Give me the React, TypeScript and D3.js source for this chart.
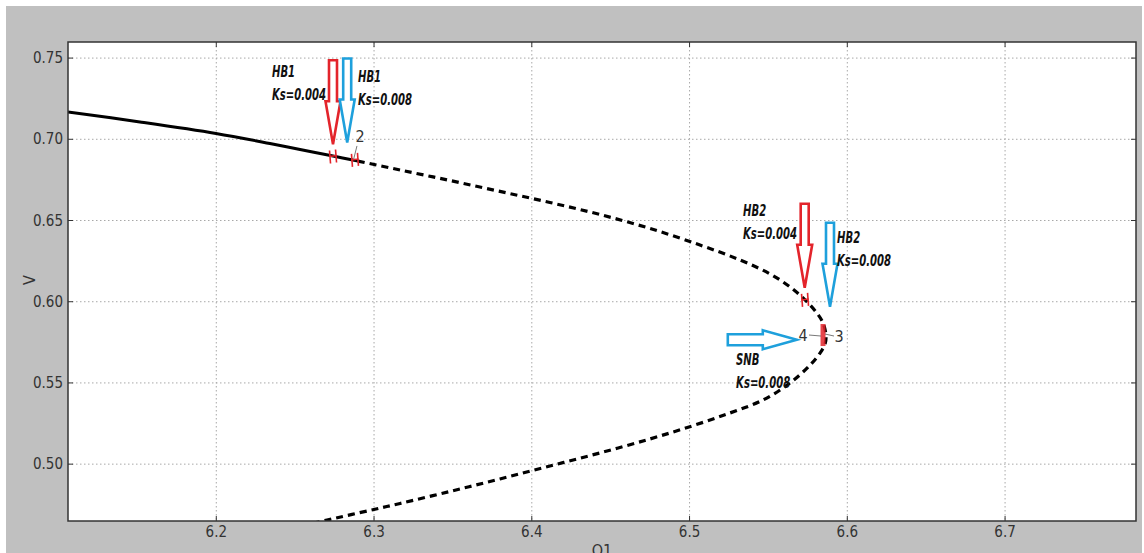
import React from "react";
import * as d3 from "d3";

// ---- data ----
const xTicks = [6.2, 6.3, 6.4, 6.5, 6.6, 6.7];
const yTicks = [0.5, 0.55, 0.6, 0.65, 0.7, 0.75];
const xDomain = [6.106, 6.783];
const yDomain = [0.465, 0.7599];

// stable branch (solid)
const stableQ = [6.106, 6.1516, 6.1998, 6.234, 6.2531, 6.274, 6.2898];
const stableV = [0.7168, 0.7107, 0.7036, 0.6974, 0.6937, 0.6897, 0.6866];
// unstable branch (dashed): upper part, fold, lower part
const unstableQ = [
  6.2898, 6.3165, 6.3482, 6.3798, 6.4115, 6.4432, 6.4749, 6.5066, 6.532, 6.551, 6.5637, 6.5732, 6.5802, 6.5846, 6.5865,
  6.5859, 6.5827, 6.5764, 6.5637, 6.5466, 6.5256, 6.5016, 6.4749, 6.4432, 6.4115, 6.3798, 6.3482, 6.3165, 6.2999, 6.2702, 6.2594,
];
const unstableV = [
  0.6866, 0.6811, 0.6746, 0.6679, 0.6611, 0.6537, 0.6451, 0.6349, 0.6257, 0.6171, 0.6091, 0.6011, 0.5937, 0.5869, 0.5789,
  0.574, 0.5684, 0.561, 0.55, 0.5395, 0.5315, 0.5235, 0.5155, 0.5069, 0.4989, 0.4909, 0.4832, 0.4758, 0.4721, 0.4656, 0.4632,
];

// bifurcation points
const bifQ = [6.274, 6.2879, 6.5732, 6.5846];
const bifV = [0.6894, 0.6873, 0.6011, 0.5795];
const bifKind = ["hb", "hb", "hb", "snb"];

// annotation arrows (tip location in data units)
const arrowTipQ = [6.274, 6.283, 6.573, 6.589, 6.568];
const arrowTipV = [0.6969, 0.698, 0.6086, 0.5969, 0.5766];
const arrowColor = ["red", "blue", "red", "blue", "blue"];
const arrowDir = ["down", "down", "down", "down", "right"];

const annLabels = [
  ["HB1", "Ks=0.004"],
  ["HB1", "Ks=0.008"],
  ["HB2", "Ks=0.004"],
  ["HB2", "Ks=0.008"],
  ["SNB", "Ks=0.008"],
];
const annQ = [6.2353, 6.2898, 6.5339, 6.5935, 6.5295];
const annV = [0.7384, 0.7353, 0.6528, 0.6362, 0.561];

const W = 1144;
const H = 553;
const L = 68, R = 1136, T = 42, B = 521;

const RED = "#e3242b";
const BLUE = "#1ea0dc";

function arrowPath(tx: number, ty: number, len: number, dir: string, shaftHW: number, headHW: number, headLen: number) {
  const pts: [number, number][] = [
    [0, 0],
    [-headLen, -headHW],
    [-headLen, -shaftHW],
    [-len, -shaftHW],
    [-len, shaftHW],
    [-headLen, shaftHW],
    [-headLen, headHW],
  ];
  const ang = dir === "down" ? Math.PI / 2 : 0;
  const c = Math.cos(ang), s = Math.sin(ang);
  return "M" + pts.map(([x, y]) => `${(tx + x * c - y * s).toFixed(1)},${(ty + x * s + y * c).toFixed(1)}`).join("L") + "Z";
}

export default function App() {
  const x = d3.scaleLinear().domain(xDomain).range([L, R]);
  const y = d3.scaleLinear().domain(yDomain).range([B, T]);
  const line = d3
    .line<[number, number]>()
    .x((d) => x(d[0]))
    .y((d) => y(d[1]))
    .curve(d3.curveCatmullRom.alpha(0.5));
  const stable = line(stableQ.map((q, i) => [q, stableV[i]]));
  const unstable = line(unstableQ.map((q, i) => [q, unstableV[i]]));
  const tickFont = "'Liberation Sans Narrow', 'DejaVu Sans Condensed', Arial, sans-serif";
  const annFont = "'DejaVu Sans Condensed', 'DejaVu Sans', Arial, sans-serif";

  return (
    <svg width={W} height={H} style={{ position: "fixed", left: 0, top: 0 }}>
      <defs>
        <clipPath id="plotclip">
          <rect x={L} y={T} width={R - L} height={B - T} />
        </clipPath>
      </defs>
      <rect x={0} y={0} width={W} height={H} fill="#ffffff" />
      <rect x={6} y={6} width={1136} height={H - 6} fill="#c0c0c0" />
      <rect x={L} y={T} width={R - L} height={B - T} fill="#ffffff" />
      {/* grid */}
      {xTicks.map((t) => (
        <line key={"gx" + t} x1={x(t)} x2={x(t)} y1={T} y2={B} stroke="#a8a8a8" strokeWidth={1} strokeDasharray="1.5,2.5" />
      ))}
      {yTicks.map((t) => (
        <line key={"gy" + t} x1={L} x2={R} y1={y(t)} y2={y(t)} stroke="#a8a8a8" strokeWidth={1} strokeDasharray="1.5,2.5" />
      ))}
      {/* curves */}
      <g clipPath="url(#plotclip)">
        <path d={stable || ""} fill="none" stroke="#000" strokeWidth={3} />
        <path d={unstable || ""} fill="none" stroke="#000" strokeWidth={3.2} strokeDasharray="7,5" />
      </g>
      {/* ticks */}
      {xTicks.map((t) => (
        <g key={"tx" + t}>
          <line x1={x(t)} x2={x(t)} y1={B} y2={B - 5} stroke="#333" strokeWidth={1} />
          <line x1={x(t)} x2={x(t)} y1={T} y2={T + 5} stroke="#333" strokeWidth={1} />
          <text x={x(t)} y={537} textAnchor="middle" fontFamily={tickFont} fontSize={15} fill="#333">
            {t.toFixed(1)}
          </text>
        </g>
      ))}
      {yTicks.map((t) => (
        <g key={"ty" + t}>
          <line x1={L} x2={L + 5} y1={y(t)} y2={y(t)} stroke="#333" strokeWidth={1} />
          <line x1={R} x2={R - 5} y1={y(t)} y2={y(t)} stroke="#333" strokeWidth={1} />
          <text x={63} y={y(t) + 5} textAnchor="end" fontFamily={tickFont} fontSize={15} fill="#333">
            {t.toFixed(2)}
          </text>
        </g>
      ))}
      <rect x={L} y={T} width={R - L} height={B - T} fill="none" stroke="#333" strokeWidth={1.5} />
      {/* axis labels */}
      <text x={(L + R) / 2} y={556} textAnchor="middle" fontFamily={tickFont} fontSize={16} fill="#333">
        Q1
      </text>
      <text transform={`translate(35,280) rotate(-90)`} textAnchor="middle" fontFamily={tickFont} fontSize={16} fill="#333">
        V
      </text>
      {/* bifurcation markers */}
      {bifQ.map((q, i) => {
        const cx = x(q), cy = y(bifV[i]);
        if (bifKind[i] === "snb") {
          return (
            <g key={"b" + i}>
              <rect x={cx - 2.5} y={cy - 11} width={5} height={22} fill={RED} opacity={0.85} />
            </g>
          );
        }
        return (
          <g key={"b" + i} stroke={RED} strokeWidth={1.6} fill="none">
            <line x1={cx - 3.5} y1={cy - 6} x2={cx - 2.5} y2={cy + 7} />
            <line x1={cx + 2.5} y1={cy - 7} x2={cx + 3.5} y2={cy + 6} />
            <line x1={cx - 3.5} y1={cy} x2={cx + 3.5} y2={cy - 1} />
          </g>
        );
      })}
      {/* point labels */}
      <text x={x(bifQ[1]) + 5} y={y(bifV[1]) - 18} textAnchor="middle" fontFamily={tickFont} fontSize={16} fill="#333">
        2
      </text>
      <line x1={x(bifQ[1]) + 2} y1={y(bifV[1]) - 14} x2={x(bifQ[1]) - 1} y2={y(bifV[1]) - 2} stroke="#555" strokeWidth={0.8} />
      <text x={x(bifQ[3]) - 20} y={y(bifV[3]) + 6} textAnchor="middle" fontFamily={tickFont} fontSize={16} fill="#333">
        4
      </text>
      <line x1={x(bifQ[3]) - 14} y1={y(bifV[3])} x2={x(bifQ[3]) - 2} y2={y(bifV[3]) + 1} stroke="#555" strokeWidth={0.8} />
      <text x={x(bifQ[3]) + 16} y={y(bifV[3]) + 7} textAnchor="middle" fontFamily={tickFont} fontSize={16} fill="#333">
        3
      </text>
      <line x1={x(bifQ[3]) + 2} y1={y(bifV[3]) - 1} x2={x(bifQ[3]) + 11} y2={y(bifV[3]) + 1} stroke="#555" strokeWidth={0.8} />
      {/* arrows */}
      {arrowTipQ.map((q, i) => {
        const tx = x(q), ty = y(arrowTipV[i]);
        const d =
          arrowDir[i] === "down"
            ? arrowPath(tx, ty, 84, "down", 4, 7.5, 43)
            : arrowPath(tx, ty, 69, "right", 5.5, 9.5, 34);
        return (
          <path key={"a" + i} d={d} fill="#fff" stroke={arrowColor[i] === "red" ? RED : BLUE} strokeWidth={2.6} strokeLinejoin="miter" />
        );
      })}
      {/* annotation texts */}
      {annLabels.map((lab, i) => (
        <text
          key={"t" + i}
          transform={`translate(${x(annQ[i])},${y(annV[i])}) scale(0.7,1)`}
          fontFamily={annFont}
          fontSize={16}
          fontWeight="bold"
          fontStyle="italic"
          fill="#111"
        >
          <tspan x={0} y={0}>{lab[0]}</tspan>
          <tspan x={0} y={23}>{lab[1]}</tspan>
        </text>
      ))}
    </svg>
  );
}
